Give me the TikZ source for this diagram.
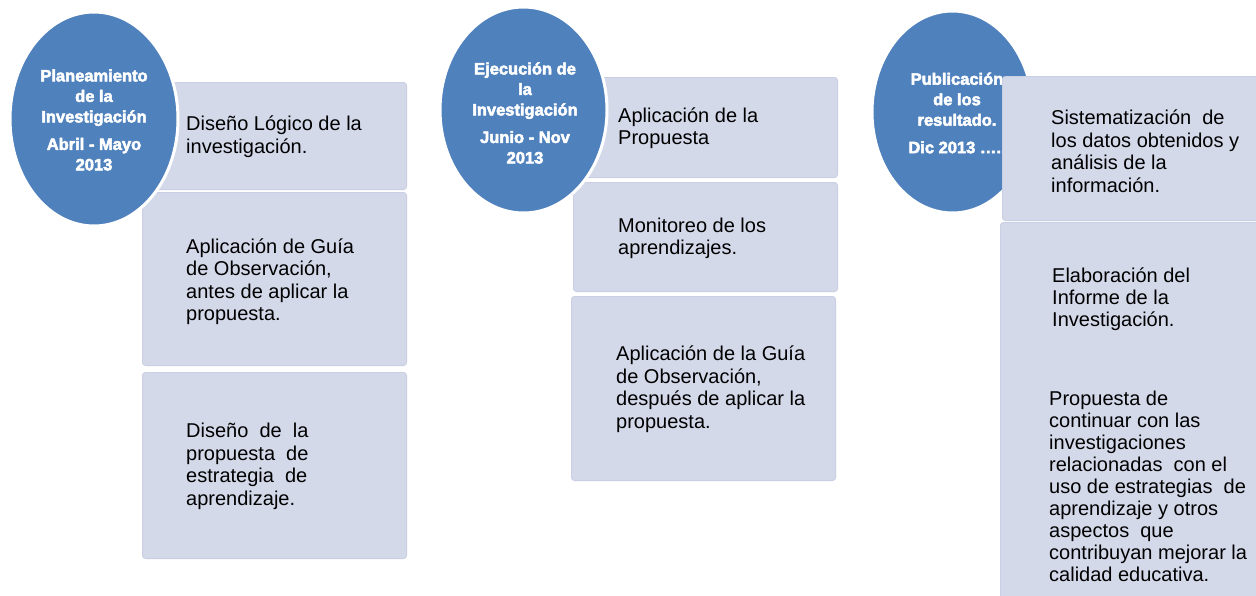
\documentclass[tikz,border=0pt]{standalone}
\usepackage{fontspec}
\setmainfont{Liberation Sans}
\newfontfamily\heavy[FakeBold=3]{Liberation Sans Bold}
\usetikzlibrary{shapes.geometric}
\definecolor{ellfill}{RGB}{79,129,189}
\definecolor{boxfill}{RGB}{212,217,234}
\definecolor{boxline}{RGB}{202,207,227}
\begin{document}
\begin{tikzpicture}[x=1pt,y=-1pt,
  box/.style={draw=boxline, line width=1pt, fill=boxfill, rounded corners=3pt, anchor=north west, inner sep=0pt},
  phase/.style={ellipse, draw=white, line width=3pt, fill=ellfill, inner sep=0pt},
  txt/.style={anchor=west, align=left, inner sep=0pt, text=black, font=\fontsize{20}{22.5}\selectfont},
  ptxt/.style={align=center, inner sep=0pt, text=white, font=\heavy\fontsize{16.5}{20.5}\selectfont}]
\useasboundingbox (0,0) rectangle (1256,595);
\fill[white] (0,0) rectangle (1256,595);

% ---------- column 1 ----------
\node[box, minimum width=264pt, minimum height=107pt] (b1a) at (142,82) {};
\node[box, minimum width=264pt, minimum height=173pt] (b1b) at (142,192) {};
\node[box, minimum width=264pt, minimum height=186pt] (b1c) at (142,372) {};
\node[txt] (t1a) at (186,136.5) {Diseño Lógico de la\\investigación.};
\node[txt] (t1b) at (186,281.5) {Aplicación de Guía\\de Observación,\\antes de aplicar la\\propuesta.};
\node[txt] (t1c) at (186,466.5) {Diseño\ \ de\ \ la\\propuesta\ \ de\\estrategia\ \ de\\aprendizaje.};
\node[phase, minimum width=168pt, minimum height=214pt] (e1) at (94,119) {};
\node[ptxt] (p1) at (94,120) {Planeamiento\\de la\\Investigación\\[7pt]Abril - Mayo\\2013};

% ---------- column 2 ----------
\node[box, minimum width=264pt, minimum height=100pt] (b2a) at (573,77) {};
\node[box, minimum width=264pt, minimum height=109pt] (b2b) at (573,182) {};
\node[box, minimum width=264pt, minimum height=184pt] (b2c) at (571,296) {};
\node[txt] (t2a) at (618,128) {Aplicación de la\\Propuesta};
\node[txt] (t2b) at (618,238.5) {Monitoreo de los\\aprendizajes.};
\node[txt] (t2c) at (616,389) {Aplicación de la Guía\\de Observación,\\después de aplicar la\\propuesta.};
\node[phase, minimum width=167pt, minimum height=206pt] (e2) at (523.5,110) {};
\node[ptxt] (p2) at (525,113) {Ejecución de\\la\\Investigación\\[7pt]Junio - Nov\\2013};

% ---------- column 3 ----------
\node[phase, minimum width=161pt, minimum height=202pt] (e3) at (952.5,112) {};
\node[ptxt] (p3) at (957,113) {Publicación\\de los\\resultado.\\[7pt]Dic 2013 …..};
\node[box, minimum width=264pt, minimum height=144pt] (b3a) at (1002,76) {};
\node[box, minimum width=266pt, minimum height=380pt] (b3b) at (1000,222) {};
\node[txt] (t3a) at (1051,151) {Sistematización\ \ de\\los datos obtenidos y\\análisis de la\\información.};
\node[txt, font=\fontsize{20}{22}\selectfont] (t3b) at (1052,299) {Elaboración del\\Informe de la\\Investigación.};
\node[txt, font=\fontsize{20}{22}\selectfont] (t3c) at (1049,486.5) {Propuesta de\\continuar con las\\investigaciones\\relacionadas\ \ con el\\uso de estrategias\ \ de\\aprendizaje y otros\\aspectos\ \ que\\contribuyan mejorar la\\calidad educativa.};
\end{tikzpicture}
\end{document}
